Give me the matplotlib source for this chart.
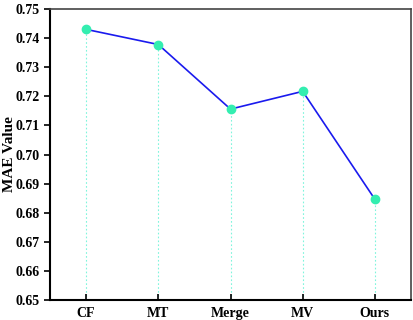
import matplotlib
matplotlib.use("Agg")
import matplotlib.pyplot as plt

categories = ["CF", "MT", "Merge", "MV", "Ours"]
mae = [0.7430, 0.7378, 0.7156, 0.7217, 0.6846]
yticks = [0.65, 0.66, 0.67, 0.68, 0.69, 0.70, 0.71, 0.72, 0.73, 0.74, 0.75]

plt.rcParams['font.family'] = ['Liberation Serif', 'DejaVu Serif']
plt.rcParams['font.weight'] = 'bold'

fig = plt.figure(figsize=(4.13, 3.2), dpi=100)
ax = fig.add_axes([50/413, 20/320, 361/413, 291/320])

x = list(range(len(categories)))
ax.vlines(x, 0.65, mae, colors='#7ff5dc', linestyles=(0, (1.5, 2)), linewidth=0.8, zorder=1)
ax.plot(x, mae, color='#1a1aee', linewidth=1.2, zorder=2)
ax.plot(x, mae, linestyle='none', marker='o', markersize=6, color='#33eeb0', zorder=3)

ax.set_xlim(-0.5, 4.5)
ax.set_ylim(0.65, 0.75)
ax.set_xticks(x)
ax.set_xticklabels(categories, fontsize=10, fontweight='bold')
ax.set_yticks(yticks)
ax.set_yticklabels([f"{v:.2f}" for v in yticks], fontsize=10, fontweight='bold')
fig.text(10/413, 1 - 154/320, "MAE Value", rotation=90, ha='center', va='center',
         fontsize=11, fontweight='bold')

ax.tick_params(axis='x', direction='in', length=4, width=1.2, pad=5)
ax.tick_params(axis='y', direction='out', length=4, width=1.2)
for s in ['left', 'bottom']:
    ax.spines[s].set_linewidth(1.5)
    ax.spines[s].set_color('black')
for s in ['top', 'right']:
    ax.spines[s].set_linewidth(1.2)
    ax.spines[s].set_color('#444444')

fig.savefig("out.png", dpi=100)
